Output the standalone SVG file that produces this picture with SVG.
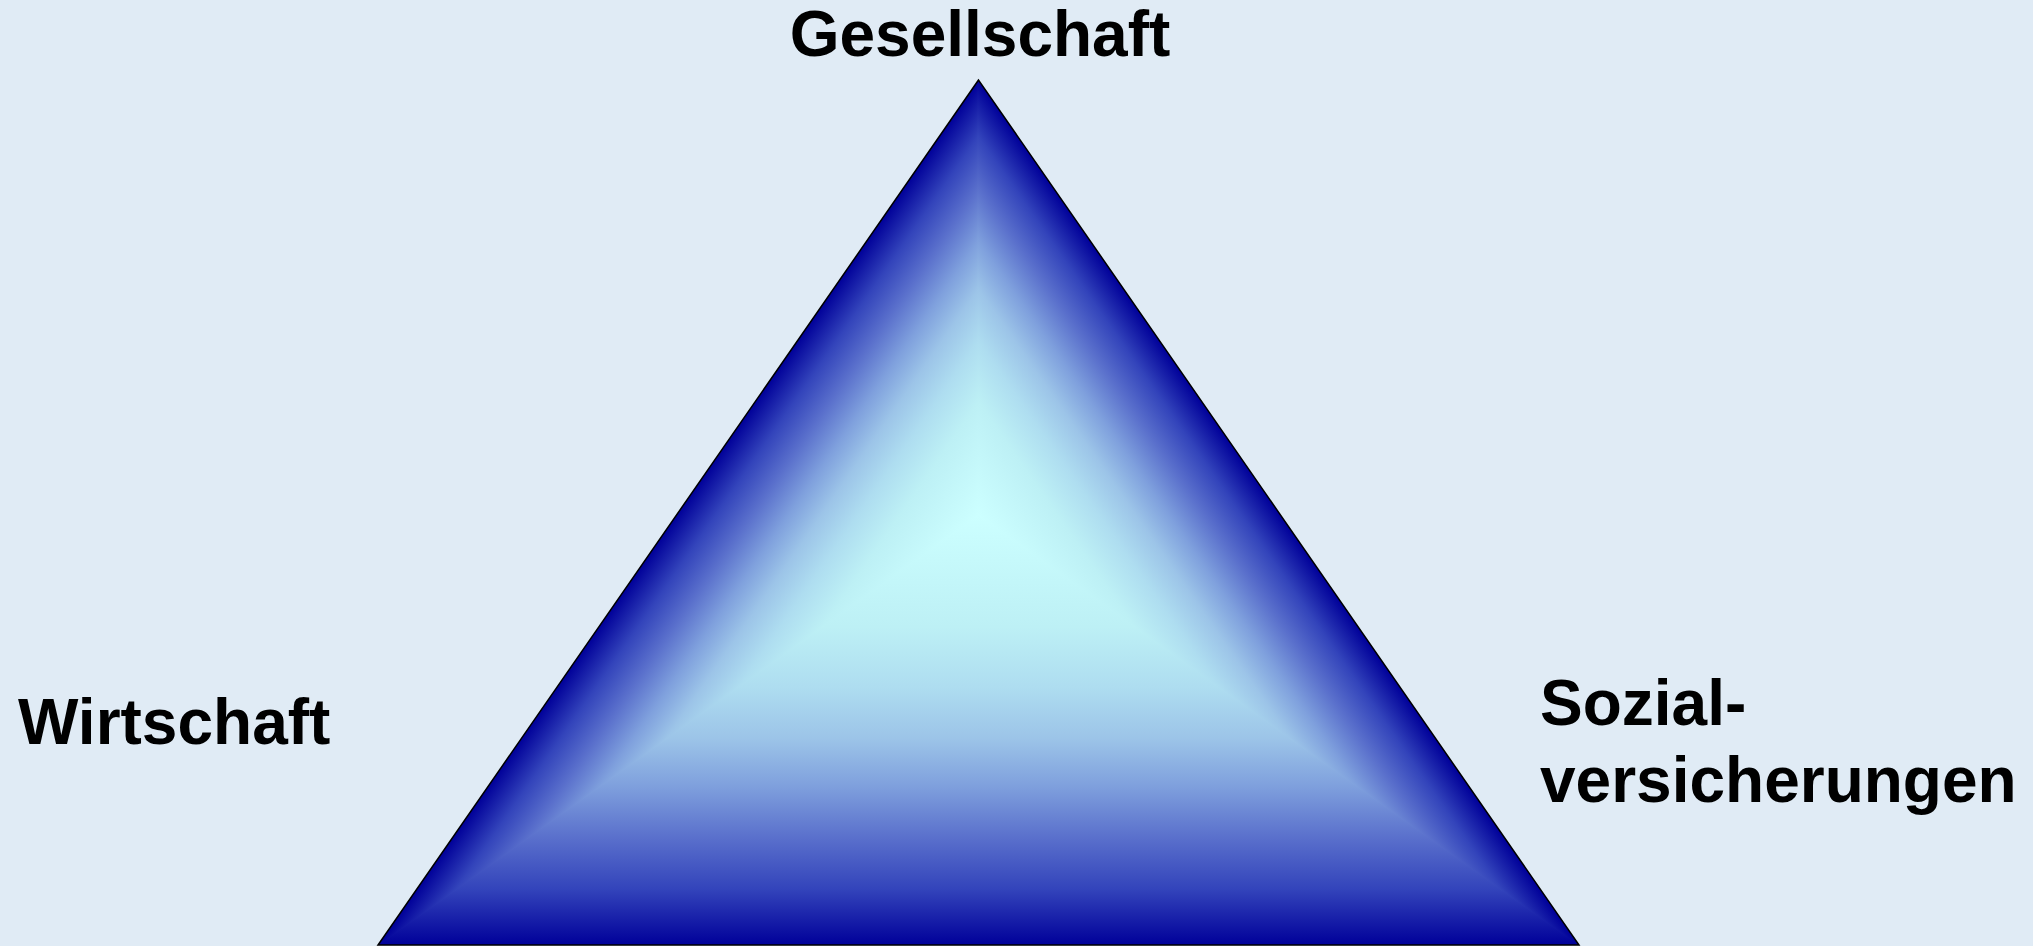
<svg xmlns="http://www.w3.org/2000/svg" width="2033" height="946" viewBox="0 0 2033 946">
  <style>
    .lbl { font-family: "Liberation Sans", Arial, sans-serif; font-weight: bold; font-size: 64px; fill: #000000; }
    .part { stroke-width: 1.5; }
  </style>
  <defs>
    <linearGradient id="gBottom" gradientUnits="userSpaceOnUse" x1="978.5" y1="515" x2="978.5" y2="945">
      <stop offset="0" stop-color="#CCFFFF"/>
      <stop offset="0.26" stop-color="#BDF0F5"/>
      <stop offset="0.40" stop-color="#AEDDF0"/>
      <stop offset="0.52" stop-color="#9CC4E8"/>
      <stop offset="0.63" stop-color="#7FA0DD"/>
      <stop offset="0.75" stop-color="#5A70CC"/>
      <stop offset="0.87" stop-color="#3344BB"/>
      <stop offset="1" stop-color="#000099"/>
    </linearGradient>
    <linearGradient id="gLeft" href="#gBottom" xlink:href="#gBottom" xmlns:xlink="http://www.w3.org/1999/xlink" gradientUnits="userSpaceOnUse" x1="978.5" y1="515" x2="774.7" y2="373.6"/>
    <linearGradient id="gRight" href="#gBottom" xlink:href="#gBottom" xmlns:xlink="http://www.w3.org/1999/xlink" gradientUnits="userSpaceOnUse" x1="978.5" y1="515" x2="1182.3" y2="373.6"/>
    <clipPath id="triClip">
      <polygon points="978.5,80 378,945 1579,945"/>
    </clipPath>
  </defs>

  <rect x="0" y="0" width="2033" height="946" fill="#E0EBF5"/>

  <g id="triangle">
    <g clip-path="url(#triClip)">
      <polygon class="part" points="978.5,515 378,945 1579,945" fill="url(#gBottom)" stroke="url(#gBottom)"/>
      <polygon class="part" points="978.5,515 978.5,80 378,945" fill="url(#gLeft)" stroke="url(#gLeft)"/>
      <polygon class="part" points="978.5,515 978.5,80 1579,945" fill="url(#gRight)" stroke="url(#gRight)"/>
    </g>
    <polygon points="978.5,80 378,945 1579,945" fill="none" stroke="#000000" stroke-width="1.5" stroke-linejoin="miter"/>
  </g>

  <g id="label-gesellschaft">
    <text class="lbl" x="980" y="56" text-anchor="middle">Gesellschaft</text>
  </g>
  <g id="label-wirtschaft">
    <text class="lbl" x="18" y="744">Wirtschaft</text>
  </g>
  <g id="label-sozialversicherungen">
    <text class="lbl" x="1540" y="725">Sozial-</text>
    <text class="lbl" x="1540" y="802">versicherungen</text>
  </g>
</svg>
